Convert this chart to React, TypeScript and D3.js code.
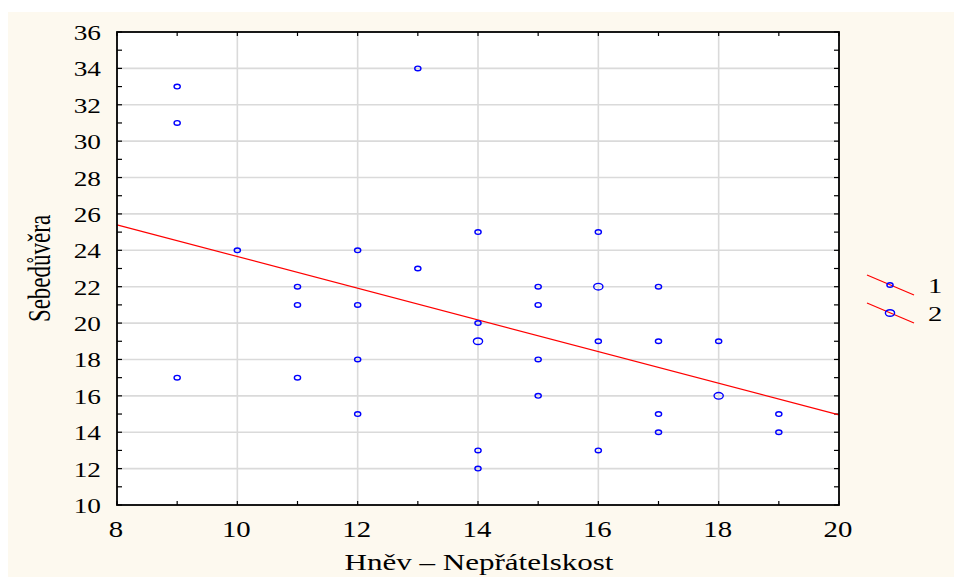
import React from 'react';
import * as d3 from 'd3';

// scatter data (Hněv – Nepřátelskost vs Sebedůvěra); count = overlapping cases
const xValues = [9, 9, 9, 10, 11, 11, 11, 12, 12, 12, 12, 13, 13, 14, 14, 14, 14, 14, 15, 15, 15, 15, 16, 16, 16, 16, 17, 17, 17, 17, 18, 18, 19, 19];
const yValues = [33, 31, 17, 24, 22, 21, 17, 24, 21, 18, 15, 34, 23, 25, 20, 19, 13, 12, 22, 21, 18, 16, 25, 22, 19, 13, 22, 19, 15, 14, 19, 16, 15, 14];
const counts = [1, 1, 1, 1, 1, 1, 1, 1, 1, 1, 1, 1, 1, 1, 1, 2, 1, 1, 1, 1, 1, 1, 1, 2, 1, 1, 1, 1, 1, 1, 1, 2, 1, 1];

// fitted line endpoints
const fitX = [8, 20];
const fitY = [25.4, 14.95];

const xTicks = [8, 10, 12, 14, 16, 18, 20];
const yTicks = [10, 12, 14, 16, 18, 20, 22, 24, 26, 28, 30, 32, 34, 36];
const xMinor = [9, 11, 13, 15, 17, 19];
const yMinor = [11, 13, 15, 17, 19, 21, 23, 25, 27, 29, 31, 33, 35];
const legendLabels = ['1', '2'];

const W = 954, H = 577;
const left = 117, right = 839, top = 32, bottom = 505;
const serif = '"Liberation Serif", "Times New Roman", serif';

const App: React.FC = () => {
  const x = d3.scaleLinear().domain([8, 20]).range([left, right]);
  const y = d3.scaleLinear().domain([10, 36]).range([bottom, top]);
  const line = d3.line<number>().x((_, i) => x(fitX[i])).y((d) => y(d));

  const rx = (n: number) => (n > 1 ? 4.6 : 3.1);
  const ry = (n: number) => (n > 1 ? 3.3 : 2.3);

  return (
    <svg width={W} height={H} style={{ position: 'absolute', left: 0, top: 0 }}>
      <rect x={0} y={0} width={W} height={H} fill="#fff" />
      <rect x={8} y={12} width={W - 8} height={H - 12} fill="#fdf9ef" />
      <rect x={left} y={top} width={right - left} height={bottom - top} fill="#fff" />

      {/* grid */}
      {xTicks.slice(1, -1).map((t) => (
        <line key={'gx' + t} x1={x(t)} x2={x(t)} y1={top} y2={bottom} stroke="#dadada" strokeWidth={1.6} />
      ))}
      {yTicks.slice(1, -1).map((t) => (
        <line key={'gy' + t} x1={left} x2={right} y1={y(t)} y2={y(t)} stroke="#dadada" strokeWidth={1.6} />
      ))}

      {/* inward ticks */}
      {[...xTicks, ...xMinor].map((t) => (
        <g key={'tx' + t} stroke="#000" strokeWidth={1.2}>
          <line x1={x(t)} x2={x(t)} y1={bottom} y2={bottom - 4} />
          <line x1={x(t)} x2={x(t)} y1={top} y2={top + 4} />
        </g>
      ))}
      {[...yTicks, ...yMinor].map((t) => (
        <g key={'ty' + t} stroke="#000" strokeWidth={1.2}>
          <line x1={left} x2={left + 5} y1={y(t)} y2={y(t)} />
          <line x1={right} x2={right - 5} y1={y(t)} y2={y(t)} />
        </g>
      ))}

      {/* fitted line */}
      <path d={line(fitY) || ''} fill="none" stroke="#ff0000" strokeWidth={1.2} />

      {/* points */}
      {xValues.map((v, i) => (
        <ellipse key={'p' + i} cx={x(v)} cy={y(yValues[i])} rx={rx(counts[i])} ry={ry(counts[i])}
          fill="none" stroke="#0000ff" strokeWidth={1.4} />
      ))}

      {/* frame */}
      <rect x={left} y={top} width={right - left} height={bottom - top} fill="none" stroke="#000" strokeWidth={1.8} />

      {/* tick labels */}
      {xTicks.map((t) => (
        <text key={'lx' + t} transform={`translate(${x(t) - 1},537) scale(1.2,1)`} textAnchor="middle"
          fontFamily={serif} fontSize={24} fill="#000">{t}</text>
      ))}
      {yTicks.map((t) => (
        <text key={'ly' + t} transform={`translate(101,${y(t) + 8}) scale(1.3,1)`} textAnchor="end"
          fontFamily={serif} fontSize={21} fill="#000">{t}</text>
      ))}

      {/* axis titles */}
      <text transform="translate(479,570) scale(1.38,1)" textAnchor="middle" fontFamily={serif} fontSize={22.5} fill="#000">
        Hněv – Nepřátelskost
      </text>
      <text transform={`translate(50,${(top + bottom) / 2}) scale(1.37,1) rotate(-90)`} textAnchor="middle"
        fontFamily={serif} fontSize={23} fill="#000">
        Sebedůvěra
      </text>

      {/* legend */}
      {legendLabels.map((l, i) => {
        const ly = 285 + i * 28;
        return (
          <g key={'lg' + l}>
            <line x1={867} x2={914} y1={ly - 10} y2={ly + 10} stroke="#ff0000" strokeWidth={1.2} />
            <ellipse cx={890} cy={ly} rx={rx(i + 1)} ry={ry(i + 1)} fill="none" stroke="#0000ff" strokeWidth={1.4} />
            <text transform={`translate(928,${ly + 8}) scale(1.3,1)`} fontFamily={serif} fontSize={22} fill="#000">{l}</text>
          </g>
        );
      })}
    </svg>
  );
};

export default App;
